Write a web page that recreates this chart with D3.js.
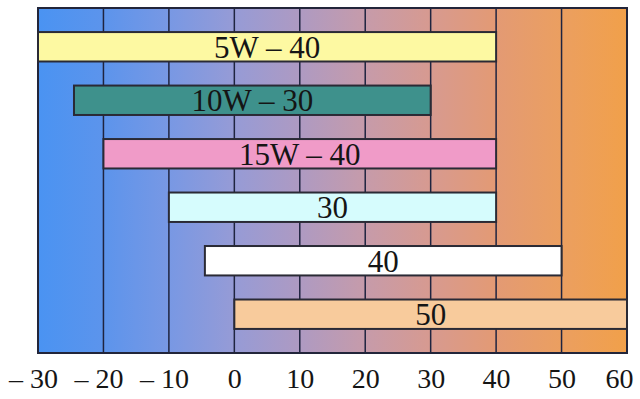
<!DOCTYPE html>
<html>
<head>
<meta charset="utf-8">
<script src="https://cdn.jsdelivr.net/npm/d3@7"></script>
<style>
  body { margin: 0; background: #fff; }
  svg { display: block; font-family: "Liberation Serif", "DejaVu Serif", serif; }
</style>
</head>
<body>
<svg width="640" height="399"></svg>
<script>
// oil grades and the temperature range (°C) each one covers
const grades = ['5W – 40', '10W – 30', '15W – 40', '30', '40', '50'];
const lowTemps = [-30, -24.5, -20, -10, -4.5, 0];
const highTemps = [40, 30, 40, 40, 50, 60];
const barColors = ['#fdf9a2', '#3e918c', '#f09bc8', '#d6fcfd', '#ffffff', '#f8cb9c'];
const tickValues = [-30, -20, -10, 0, 10, 20, 30, 40, 50, 60];
const bgColors = ['#4a93f2', '#5c94ec', '#7898e4', '#969bd6', '#ae9ac2', '#c69baa', '#d79a90', '#e39a74', '#eb9f60', '#f1a04a'];

const svg = d3.select('svg'),
  margin = { top: 8, right: 13, bottom: 46, left: 38 },
  width = +svg.attr('width') - margin.left - margin.right,
  height = +svg.attr('height') - margin.top - margin.bottom;

const x = d3.scaleLinear().domain([-30, 60]).range([0, width]);
const y = d3.scaleBand().domain(grades).range([0, height]).padding(0.45);

const g = svg.append('g').attr('transform', `translate(${margin.left},${margin.top})`);

// background gradient, blue (cold) to orange (hot)
const grad = svg.append('defs').append('linearGradient')
  .attr('id', 'bg')
  .attr('gradientUnits', 'userSpaceOnUse')
  .attr('x1', x(-30)).attr('x2', x(60))
  .attr('y1', 0).attr('y2', 0);
grad.selectAll('stop')
  .data(tickValues)
  .enter()
  .append('stop')
  .attr('offset', (d) => (x(d) - x(-30)) / (x(60) - x(-30)))
  .attr('stop-color', (d, i) => bgColors[i]);

g.append('rect')
  .attr('width', width)
  .attr('height', height)
  .attr('fill', 'url(#bg)');

// vertical grid
g.selectAll('.grid')
  .data(tickValues)
  .enter()
  .append('line')
  .attr('class', 'grid')
  .attr('x1', (d) => x(d)).attr('x2', (d) => x(d))
  .attr('y1', 0).attr('y2', height)
  .attr('stroke', '#1f2440')
  .attr('stroke-width', 1.5);

g.append('rect')
  .attr('width', width)
  .attr('height', height)
  .attr('fill', 'none')
  .attr('stroke', '#22253a')
  .attr('stroke-width', 2);

// bars
g.selectAll('.bar')
  .data(grades)
  .enter()
  .append('rect')
  .attr('class', 'bar')
  .attr('x', (d, i) => x(lowTemps[i]))
  .attr('y', (d) => y(d))
  .attr('width', (d, i) => x(highTemps[i]) - x(lowTemps[i]))
  .attr('height', y.bandwidth())
  .attr('fill', (d, i) => barColors[i])
  .attr('stroke', '#2a2a35')
  .attr('stroke-width', 2);

g.selectAll('.label')
  .data(grades)
  .enter()
  .append('text')
  .attr('class', 'label')
  .attr('x', (d, i) => (x(lowTemps[i]) + x(highTemps[i])) / 2)
  .attr('y', (d) => y(d) + y.bandwidth() / 2)
  .attr('dy', '0.36em')
  .attr('text-anchor', 'middle')
  .attr('font-size', '31px')
  .attr('fill', '#151515')
  .text((d) => d);

// axis labels
const axis = g.append('g')
  .attr('transform', `translate(0, ${height})`)
  .call(d3.axisBottom(x).tickValues(tickValues).tickSize(0).tickPadding(15)
    .tickFormat((d) => (d < 0 ? `– ${-d}` : `${d}`)));
axis.select('.domain').remove();
axis.selectAll('text')
  .attr('font-family', '"Liberation Serif", serif')
  .attr('font-size', '28px')
  .attr('fill', '#151515')
  .attr('dx', (d) => (d === 60 ? -8 : d < 0 ? -5 : 0));
</script>
</body>
</html>
